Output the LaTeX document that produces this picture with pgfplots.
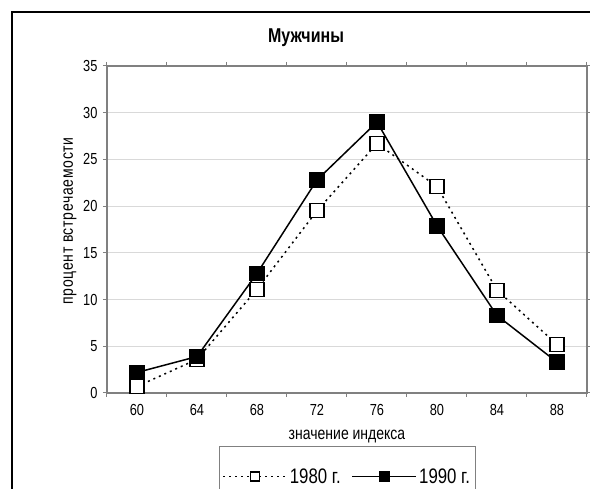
\documentclass[border=0pt]{standalone}
\usepackage{fontspec}
\setmainfont{Liberation Sans}[FakeStretch=0.8]
\usepackage{pgfplots}
\pgfplotsset{compat=1.18}
\definecolor{axgray}{RGB}{128,128,128}
\definecolor{gridgray}{RGB}{217,217,217}
\begin{document}
\begin{tikzpicture}[x=1pt,y=1pt]
\path[use as bounding box] (0,0) rectangle (590,489);
\clip (0,0) rectangle (590,489);
\draw[black,line width=1.5pt] (12,-10) -- (12,477) -- (620,477);
\node[font=\fontsize{20}{22}\selectfont\bfseries] at (306,451) {Мужчины};
\begin{axis}[at={(107pt,96pt)}, anchor=south west, scale only axis,
  width=480pt, height=327pt,
  xmin=-0.5, xmax=7.5, ymin=0, ymax=35,
  xtick={-0.5,0.5,...,7.5}, xticklabels={},
  extra x ticks={0,1,...,7},
  extra x tick labels={60,64,68,72,76,80,84,88},
  extra x tick style={major tick length=0pt},
  ytick={0,5,...,35},
  ymajorgrids, major grid style={gridgray, line width=1pt},
  axis line style={axgray, line width=1.6pt},
  tick style={axgray, line width=1pt},
  major tick length=4pt,
  tick align=outside,
  clip=false,
  /pgf/number format/assume math mode=true,
  ticklabel style={font=\fontsize{16}{18}\selectfont},
  xticklabel style={yshift=-8pt},
  yticklabel style={xshift=-2pt},
  xlabel={значение индекса},
  ylabel={\addfontfeature{LetterSpace=4}процент встречаемости},
  label style={font=\fontsize{17.5}{19}\selectfont},
  xlabel style={at={(0.5,-0.1346)}, anchor=center},
  ylabel style={at={(-0.077,0.526)}, anchor=center},
  legend columns=2,
  legend style={at={(0.2333,-0.162)}, anchor=north west, draw=axgray, line width=0.8pt,
    font=\fontsize{21}{23}\selectfont, inner xsep=3pt, inner ysep=20pt,
    /tikz/every even column/.append style={column sep=9pt}},
  legend image code/.code={\draw[#1, mark size=4.5pt, mark repeat=2, mark phase=2] plot coordinates {(0pt,0pt) (32pt,0pt) (64pt,0pt)};},
]
\addplot[black, line width=1.5pt, dash pattern=on 2pt off 4pt,
  mark=square*, mark size=7pt, mark options={solid, fill=white, draw=black, line width=1.3pt}]
  coordinates {(0,0.7)(1,3.6)(2,11.1)(3,19.5)(4,26.7)(5,22.1)(6,11.0)(7,5.2)};
\addlegendentry{1980 г.}
\addplot[black, line width=1.5pt, mark=square*, mark size=7pt, mark options={solid, fill=black}]
  coordinates {(0,2.2)(1,3.9)(2,12.8)(3,22.8)(4,29.0)(5,17.9)(6,8.3)(7,3.3)};
\addlegendentry{1990 г.}
\end{axis}
\end{tikzpicture}
\end{document}
